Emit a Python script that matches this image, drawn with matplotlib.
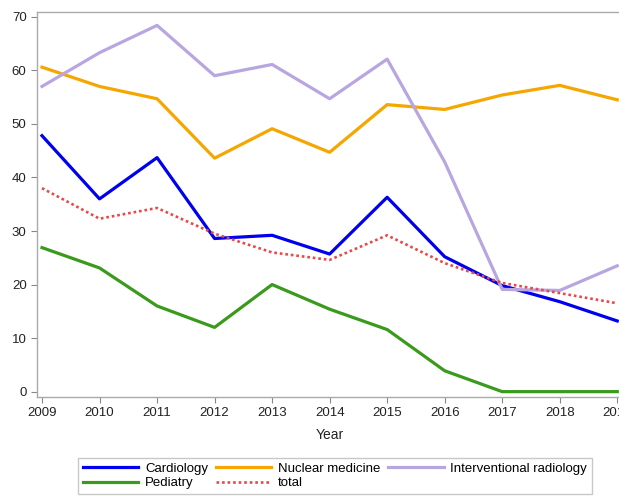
import matplotlib
matplotlib.use("Agg")
import matplotlib.pyplot as plt

years = [2009, 2010, 2011, 2012, 2013, 2014, 2015, 2016, 2017, 2018, 2019]
cardiology = [47.8, 36.0, 43.7, 28.6, 29.2, 25.7, 36.3, 25.2, 19.8, 16.8, 13.2]
nuclear = [60.6, 57.0, 54.7, 43.6, 49.1, 44.7, 53.6, 52.7, 55.4, 57.2, 54.5]
interventional = [57.0, 63.3, 68.4, 59.0, 61.1, 54.7, 62.1, 42.9, 19.1, 18.9, 23.5]
pediatry = [26.9, 23.1, 16.0, 12.0, 20.0, 15.4, 11.6, 3.9, 0.0, 0.0, 0.0]
total = [38.0, 32.3, 34.3, 29.5, 26.0, 24.6, 29.2, 24.0, 20.3, 18.4, 16.5]

plt.rcParams['font.family'] = ['Liberation Sans', 'DejaVu Sans']

fig = plt.figure(figsize=(6.19, 4.96), dpi=100)
ax = fig.add_axes([37/619, 1-397/496, (623-37)/619, (397-12)/496])

lw = 2.3
h_c, = ax.plot(years, cardiology, color='#0000ee', lw=lw, label='Cardiology')
h_n, = ax.plot(years, nuclear, color='#f5a600', lw=lw, label='Nuclear medicine')
h_i, = ax.plot(years, interventional, color='#b8a6e0', lw=lw, label='Interventional radiology')
h_p, = ax.plot(years, pediatry, color='#3a9a1c', lw=lw, label='Pediatry')
h_t, = ax.plot(years, total, color='#e84848', lw=1.9, ls=(0, (1, 1.1)), label='total')

ax.set_xlim(2008.913, 2019.1)
ax.set_ylim(-1.0, 70.9)
ax.set_xticks(years)
ax.set_yticks(range(0, 71, 10))
ax.tick_params(axis='both', labelsize=9.5, color='#888888', length=4, labelcolor='#222222')
for s in ['left', 'bottom', 'top', 'right']:
    ax.spines[s].set_color('#aaaaaa')
    ax.spines[s].set_linewidth(1.0)
ax.set_xlabel('Year', fontsize=10, color='#222222', labelpad=6)

handles = [h_c, h_p, h_n, h_t, h_i]
leg = fig.legend(handles=handles, labels=[h.get_label() for h in handles],
                 ncol=3, loc='center', bbox_to_anchor=(335/619, 1-476/496),
                 fontsize=9.5, handlelength=4.2, frameon=True, fancybox=False,
                 edgecolor='#bbbbbb', borderpad=0.35, labelspacing=0.15,
                 columnspacing=0.6, handletextpad=0.5)
leg.get_frame().set_linewidth(1.0)

fig.savefig('out.png', dpi=100)
